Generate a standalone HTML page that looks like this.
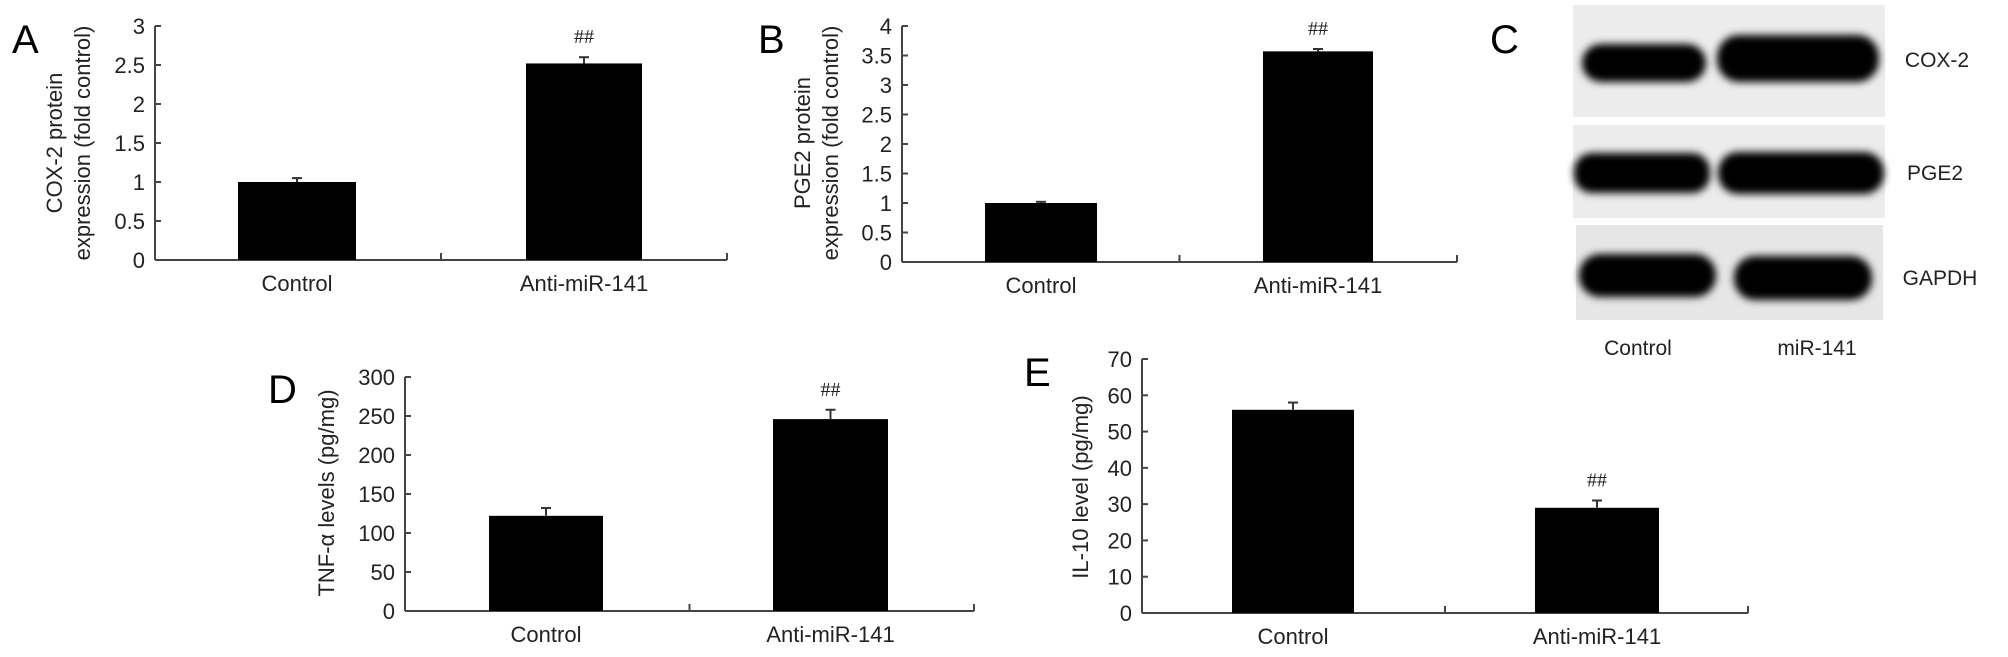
<!DOCTYPE html>
<html><head><meta charset="utf-8"><style>
html,body{margin:0;padding:0;background:#fff;}
svg{display:block;font-family:"Liberation Sans",Arial,sans-serif;}
</style></head><body>
<svg id="fig" width="2008" height="657" viewBox="0 0 2008 657" xmlns="http://www.w3.org/2000/svg">
<defs>
<filter id="blur" x="-20%" y="-50%" width="140%" height="200%"><feGaussianBlur stdDeviation="4"/></filter>
</defs>
<g id="panels"></g>
<g id="blot">
<text x="1490" y="53" font-size="40">C</text>
<rect x="1573" y="5" width="312" height="112" fill="#ececec"/>
<rect x="1573" y="125" width="312" height="93" fill="#ececec"/>
<rect x="1576" y="225" width="307" height="95" fill="#e6e6e6"/>
<g filter="url(#blur)">
<rect x="1582" y="44" width="124" height="38" rx="19" fill="#000"/>
<rect x="1717" y="35" width="162" height="47" rx="22" fill="#000"/>
<rect x="1574" y="153" width="136" height="40" rx="18" fill="#000"/>
<rect x="1718" y="152" width="166" height="42" rx="20" fill="#000"/>
<rect x="1579" y="254" width="137" height="43" rx="21" fill="#000"/>
<rect x="1734" y="256" width="138" height="44" rx="21" fill="#000"/>
</g>
<text x="1937" y="67" font-size="21" text-anchor="middle" fill="#222">COX-2</text>
<text x="1935" y="180" font-size="21" text-anchor="middle" fill="#222">PGE2</text>
<text x="1940" y="285" font-size="21" text-anchor="middle" fill="#222">GAPDH</text>
<text x="1638" y="355" font-size="21" text-anchor="middle" fill="#222">Control</text>
<text x="1817" y="355" font-size="21" text-anchor="middle" fill="#222">miR-141</text>
</g>
</svg>
<script>
const categories = ["Control", "Anti-miR-141"];
const valuesA = [1.0, 2.52];
const errorsA = [0.05, 0.08];
const ticksA = ["0","0.5","1","1.5","2","2.5","3"];
const valuesB = [1.0, 3.57];
const errorsB = [0.02, 0.04];
const ticksB = ["0","0.5","1","1.5","2","2.5","3","3.5","4"];
const valuesD = [122, 246];
const errorsD = [10, 12];
const ticksD = ["0","50","100","150","200","250","300"];
const valuesE = [56, 29];
const errorsE = [2, 2];
const ticksE = ["0","10","20","30","40","50","60","70"];

const NS = "http://www.w3.org/2000/svg";
const root = document.getElementById("panels");
function mk(tag, attrs, parent, text){
  const e = document.createElementNS(NS, tag);
  for (const k in attrs) e.setAttribute(k, attrs[k]);
  if (text !== undefined) e.textContent = text;
  parent.appendChild(e);
  return e;
}
const panels = [
  {id:"a", letter:"A", lx:12, ly:53, vals:valuesA, errs:errorsA, ticks:ticksA, ax:155, top:26, bot:260, right:727,
   bars:[[238,356],[526,642]], sig:[false,true], title:["COX-2 protein","expression (fold control)"], tx:[62,90], ty:143},
  {id:"b", letter:"B", lx:758, ly:53, vals:valuesB, errs:errorsB, ticks:ticksB, ax:902, top:26, bot:262, right:1457,
   bars:[[985,1097],[1263,1373]], sig:[false,true], title:["PGE2 protein","expression (fold control)"], tx:[810,838], ty:143},
  {id:"d", letter:"D", lx:268, ly:403, vals:valuesD, errs:errorsD, ticks:ticksD, ax:405, top:377, bot:611, right:974,
   bars:[[489,603],[773,888]], sig:[false,true], title:["TNF-\u03b1 levels (pg/mg)"], tx:[334], ty:493},
  {id:"e", letter:"E", lx:1024, ly:386, vals:valuesE, errs:errorsE, ticks:ticksE, ax:1142, top:359, bot:613, right:1748,
   bars:[[1232,1354],[1535,1659]], sig:[false,true], title:["IL-10 level (pg/mg)"], tx:[1088], ty:487}
];
panels.forEach(p => {
  const g = mk("g", {}, root);
  
  
  const maxV = parseFloat(p.ticks[p.ticks.length-1]);
  const y = v => p.bot - (v / maxV) * (p.bot - p.top);
  const lt = mk("text", {x:p.lx, y:p.ly, "font-size":40, fill:"#000"}, g, p.letter);
  
  
  const ya = mk("line", {x1:p.ax, y1:p.top, x2:p.ax, y2:p.bot, stroke:"#444", "stroke-width":2}, g);
  
  
  p.ticks.forEach(t => {
    const yy = y(parseFloat(t));
    const tk = mk("line", {x1:p.ax, y1:yy, x2:p.ax+6, y2:yy, stroke:"#444", "stroke-width":2}, g);
    
    
    const tl = mk("text", {x:p.ax-10, y:yy+8, "font-size":22, "text-anchor":"end", fill:"#222"}, g, t);
    
    
  });
  const xa = mk("line", {x1:p.ax, y1:p.bot, x2:p.right, y2:p.bot, stroke:"#444", "stroke-width":2}, g);
  
  
  const mid = (p.ax + p.right) / 2;
  [mid, p.right].forEach(xx => {
    const tk = mk("line", {x1:xx, y1:p.bot, x2:xx, y2:p.bot-7, stroke:"#444", "stroke-width":2}, g);
    
    
  });
  p.title.forEach((line, i) => {
    const tt = mk("text", {x:p.tx[i], y:p.ty, "font-size":22, "text-anchor":"middle", fill:"#222",
      transform:"rotate(-90 " + p.tx[i] + " " + p.ty + ")"}, g, line);
    
    
  });
  p.vals.forEach((v, i) => {
    const [x0, x1] = p.bars[i];
    const yt = y(v);
    const r = mk("rect", {x:x0, y:yt, width:x1-x0, height:p.bot-yt, fill:"#000"}, g);
    
    
    const cx = (x0 + x1) / 2;
    const ye = y(v + p.errs[i]);
    const e1 = mk("line", {x1:cx, y1:yt, x2:cx, y2:ye, stroke:"#333", "stroke-width":2}, g);
    
    
    const e2 = mk("line", {x1:cx-5, y1:ye, x2:cx+5, y2:ye, stroke:"#333", "stroke-width":2}, g);
    
    
    if (p.sig[i]) {
      const s = mk("text", {x:cx, y:ye-14, "font-size":20, "text-anchor":"middle", fill:"#222", "font-family":"Liberation Serif, serif"}, g, "##");
      
      
    }
    const cl = mk("text", {x:cx, y:p.bot+31, "font-size":22, "text-anchor":"middle", fill:"#222"}, g, categories[i]);
    
    
  });
});
</script>
</body></html>
